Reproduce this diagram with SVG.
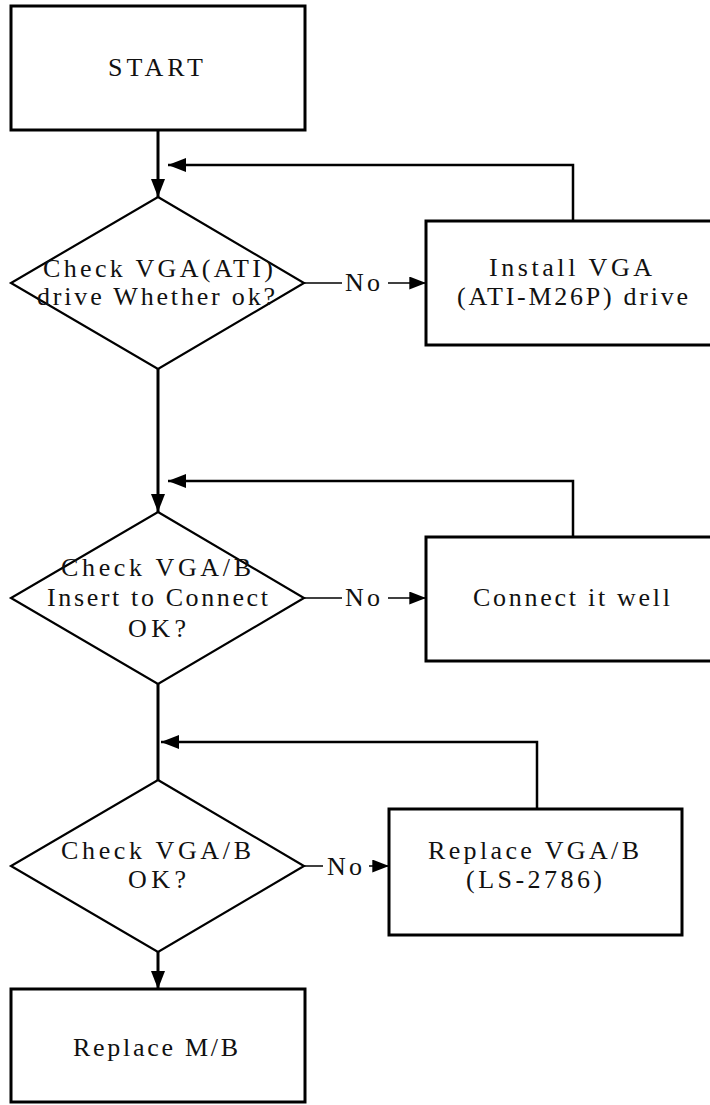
<svg xmlns="http://www.w3.org/2000/svg" width="710" height="1105" viewBox="0 0 710 1105">
<style>
.box{fill:#fff;stroke:#000;stroke-width:3}
.dia{fill:#fff;stroke:#000;stroke-width:2.2}
.ln{fill:none;stroke:#000;stroke-width:3}
.fb{fill:none;stroke:#000;stroke-width:2.5}
.no{fill:none;stroke:#000;stroke-width:1.5}
.t{font-family:"Liberation Serif","Times New Roman",serif;font-size:26px;fill:#111}
</style>
<defs>
<marker id="ah" viewBox="0 0 18 14" refX="18" refY="7" markerWidth="18" markerHeight="14" markerUnits="userSpaceOnUse" orient="auto">
<path d="M0,0 L18,7 L0,14 z" fill="#000"/>
</marker>
<marker id="ahs" viewBox="0 0 18 14" refX="18" refY="7" markerWidth="17" markerHeight="13" markerUnits="userSpaceOnUse" orient="auto">
<path d="M0,0 L18,7 L0,14 z" fill="#000"/>
</marker>
</defs>
<g id="connectors">
<line class="ln" x1="158" y1="130" x2="158" y2="197" marker-end="url(#ah)"/>
<polyline class="fb" points="573,222 573,165 168,165" marker-end="url(#ah)"/>
<line class="no" x1="304" y1="283" x2="342" y2="283"/>
<line class="no" x1="388" y1="283" x2="426" y2="283" marker-end="url(#ahs)"/>
<text class="t" x="345" y="291" textLength="35" lengthAdjust="spacing">No</text>
<line class="ln" x1="158" y1="369" x2="158" y2="512" marker-end="url(#ah)"/>
<polyline class="fb" points="573,537 573,481 168,481" marker-end="url(#ah)"/>
<line class="no" x1="304" y1="598" x2="342" y2="598"/>
<line class="no" x1="388" y1="598" x2="426" y2="598" marker-end="url(#ahs)"/>
<text class="t" x="345" y="606" textLength="35" lengthAdjust="spacing">No</text>
<line class="ln" x1="158" y1="684" x2="158" y2="780"/>
<polyline class="fb" points="537,809 537,742 161,742" marker-end="url(#ah)"/>
<line class="no" x1="304" y1="866" x2="323" y2="866"/>
<line class="no" x1="369" y1="866" x2="389" y2="866" marker-end="url(#ahs)"/>
<text class="t" x="327" y="875" textLength="35" lengthAdjust="spacing">No</text>
<line class="ln" x1="158" y1="952" x2="158" y2="989" marker-end="url(#ah)"/>
</g>
<g id="start">
<rect class="box" x="11" y="6" width="294" height="124"/>
<text class="t" x="108" y="76" textLength="95" lengthAdjust="spacing">START</text>
</g>
<g id="check-driver">
<polygon class="dia" points="158,197 304,283 158,369 11,283"/>
<text class="t" x="43" y="277" textLength="230" lengthAdjust="spacing">Check VGA(ATI)</text>
<text class="t" x="37" y="305" textLength="238" lengthAdjust="spacing">drive Whether ok?</text>
</g>
<g id="install-driver">
<rect class="box" x="426" y="221" width="300" height="124"/>
<text class="t" x="489" y="276" textLength="163" lengthAdjust="spacing">Install VGA</text>
<text class="t" x="457" y="305" textLength="231" lengthAdjust="spacing">(ATI-M26P) drive</text>
</g>
<g id="check-insert">
<polygon class="dia" points="158,512 304,598 158,684 11,598"/>
<text class="t" x="61" y="576" textLength="190" lengthAdjust="spacing">Check VGA/B</text>
<text class="t" x="47" y="606" textLength="221" lengthAdjust="spacing">Insert to Connect</text>
<text class="t" x="128" y="637" textLength="58" lengthAdjust="spacing">OK?</text>
</g>
<g id="connect-well">
<rect class="box" x="426" y="537" width="300" height="124"/>
<text class="t" x="473" y="606" textLength="197" lengthAdjust="spacing">Connect it well</text>
</g>
<g id="check-vgab">
<polygon class="dia" points="158,780 304,866 158,952 11,866"/>
<text class="t" x="61" y="859" textLength="190" lengthAdjust="spacing">Check VGA/B</text>
<text class="t" x="128" y="888" textLength="58" lengthAdjust="spacing">OK?</text>
</g>
<g id="replace-vgab">
<rect class="box" x="389" y="809" width="293" height="126"/>
<text class="t" x="428" y="859" textLength="211" lengthAdjust="spacing">Replace VGA/B</text>
<text class="t" x="466" y="888" textLength="136" lengthAdjust="spacing">(LS-2786)</text>
</g>
<g id="replace-mb">
<rect class="box" x="11" y="989" width="294" height="113"/>
<text class="t" x="73" y="1056" textLength="165" lengthAdjust="spacing">Replace M/B</text>
</g>
</svg>
